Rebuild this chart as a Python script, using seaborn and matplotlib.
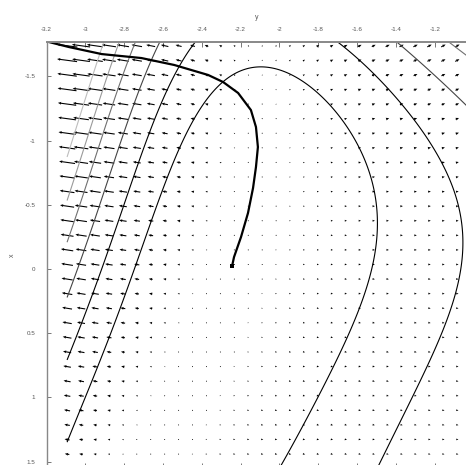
import numpy as np
import matplotlib
matplotlib.use("Agg")
import matplotlib.pyplot as plt
import seaborn as sns

# level lines as (y, x) pairs: y runs along the top, x down the side
level1_y = [-3.080, -2.941, -2.803, -2.747, -2.593, -2.444, -2.290, -2.106, -1.890, -1.721,
            -1.583, -1.531, -1.511, -1.501, -1.506, -1.531, -1.572, -1.654, -1.737, -1.803,
            -1.880, -1.982]
level1_x = [1.308, 0.771, 0.241, -0.016, -0.615, -1.160, -1.449, -1.565, -1.480, -1.262,
            -0.950, -0.748, -0.537, -0.382, -0.148, 0.062, 0.296, 0.537, 0.763, 0.997,
            1.215, 1.526]
level2_y = [-2.448, -2.649, -2.977, -3.080, -1.685, -1.516, -1.378, -1.239, -1.157, -1.085,
            -1.054, -1.070, -1.106, -1.173, -1.311, -1.378, -1.496]
level2_x = [-1.768, -1.160, 0.241, 0.646, -1.745, -1.526, -1.293, -1.005, -0.794, -0.537,
            -0.226, 0.031, 0.241, 0.530, 0.997, 1.215, 1.526]
level3_y = [-2.623, -2.777, -3.080, -1.388, -1.224, -1.044]
level3_x = [-1.768, -1.160, 0.148, -1.745, -1.526, -1.300]
level4_y = [-2.736, -2.880, -3.080, -1.095]
level4_x = [-1.768, -1.160, -0.265, -1.745]
level5_y = [-2.957, -3.080]
level5_x = [-1.160, -0.615]
level6_y = [-3.029, -3.080]
level6_x = [-1.160, -0.966]

# descent path, top left corner down to the end dot
path_y = [-3.188, -3.085, -2.916, -2.711, -2.542, -2.367, -2.290, -2.213, -2.147, -2.121,
          -2.111, -2.121, -2.136, -2.162, -2.198, -2.234, -2.244]
path_x = [-1.768, -1.729, -1.674, -1.643, -1.589, -1.511, -1.456, -1.371, -1.238, -1.106,
          -0.950, -0.794, -0.631, -0.436, -0.249, -0.093, -0.023]

# a sample of the arrows: length in pixels and screen angle in degrees
arrow_cols_y = [-3.094, -2.879, -2.663, -2.448, -2.232, -2.017, -1.802, -1.586, -1.371, -1.155]
arrow_rows_x = [-1.739, -1.398, -1.057, -0.603, -0.035, 0.533, 0.987, 1.442]
arrow_len = [[26, 19, 12, 7, 3, 3, 4, 5, 6, 7],
             [20, 15, 10, 6, 2.5, 1.5, 3, 4, 5, 6],
             [16, 13, 9, 5, 2, 1, 2, 3.5, 4.5, 5.5],
             [14, 12, 9, 5, 1.5, 0.7, 1.5, 3, 4, 5],
             [13, 12, 10, 5, 0.5, 1, 2, 3, 4, 5],
             [12, 10, 7, 3, 1, 1, 2, 3, 4, 4.5],
             [11, 7, 4, 2, 0.8, 1.2, 2, 3, 3.5, 4],
             [10, 5, 2.5, 1, 0.8, 1.2, 2, 3, 3.5, 4]]
arrow_ang = [[168, 166, 163, 155, 120, 90, 55, 45, 40, 35],
             [169, 167, 165, 160, 130, 90, 45, 35, 30, 28],
             [170, 168, 167, 165, 140, 70, 30, 22, 18, 15],
             [171, 170, 170, 170, 160, 20, 10, 8, 6, 5],
             [171, 171, 171, 175, 20, 0, -3, -4, -5, -6],
             [171, 171, 172, 178, 0, -5, -8, -8, -10, -10],
             [171, 172, 175, 180, -10, -10, -12, -13, -14, -15],
             [171, 173, 178, 180, -10, -12, -15, -17, -18, -20]]

xtick_vals = [-3.2, -3.0, -2.8, -2.6, -2.4, -2.2, -2.0, -1.8, -1.6, -1.4, -1.2]
ytick_vals = [-1.5, -1.0, -0.5, 0.0, 0.5, 1.0, 1.5]
line_colors = ['black', 'black', '#444444', '#707070', '#9a9a9a', '#bdbdbd']

# one smooth surface (quartic) through lines, arrows and path, so all three agree
powers = [(i, j) for i in range(5) for j in range(5 - i) if i + j > 0]
SHIFT = 2.2
PXU, PXV = 195.0, 128.4   # pixels per data unit along y and x


def basis(a, b, wrt=None):
    a = np.asarray(a, float)
    b = np.asarray(b, float)
    cols = []
    for i, j in powers:
        if wrt == 'a':
            c = i * a ** max(i - 1, 0) * b ** j if i else np.zeros_like(a)
        elif wrt == 'b':
            c = j * a ** i * b ** max(j - 1, 0) if j else np.zeros_like(a)
        else:
            c = a ** i * b ** j
        cols.append(c)
    return np.stack(cols, axis=-1)


nb = len(powers)
sets = [(level1_y, level1_x), (level2_y, level2_x), (level3_y, level3_x),
        (level4_y, level4_x), (level5_y, level5_x), (level6_y, level6_x)]
la, lb, lk = [], [], []
for k, (ys, xs) in enumerate(sets):
    la += list(np.array(ys) + SHIFT)
    lb += list(xs)
    lk += [k] * len(ys)
la, lb, lk = np.array(la), np.array(lb), np.array(lk)
lvl_E = np.zeros((len(la), 6))
lvl_E[np.arange(len(la)), lk] = -1.0
lvl_rows = np.hstack([basis(la, lb), lvl_E])

AY, AX = np.meshgrid(np.array(arrow_cols_y) + SHIFT, np.array(arrow_rows_x))
AY, AX = AY.ravel(), AX.ravel()
alen = np.array(arrow_len, float).ravel()
aang = np.deg2rad(np.array(arrow_ang, float).ravel())
arr_rows = np.vstack([np.hstack([basis(AY, AX, 'a') * PXU, np.zeros((len(AY), 6))]),
                      np.hstack([basis(AY, AX, 'b') * PXV, np.zeros((len(AY), 6))])])
arr_rhs = np.concatenate([alen * np.cos(aang), -alen * np.sin(aang)])

pa = np.array(path_y) + SHIFT
pb = np.array(path_x)
ta, tb = np.diff(pa), np.diff(pb)
tn = np.hypot(ta, tb)
ma, mb = (pa[1:] + pa[:-1]) / 2, (pb[1:] + pb[:-1]) / 2
path_rows = (ta / tn)[:, None] * basis(ma, mb, 'b') - (tb / tn)[:, None] * basis(ma, mb, 'a')
path_rows = np.hstack([path_rows, np.zeros((len(ma), 6))])

W_ARR, W_PATH = 0.35, 15.0
sol = np.linalg.lstsq(W_ARR * arr_rows, W_ARR * arr_rhs, rcond=None)[0]
for _ in range(8):
    coef = sol[:nb]
    gpx = np.hypot(basis(la, lb, 'a') @ coef / PXU, basis(la, lb, 'b') @ coef / PXV)
    w_lvl = 1.0 / np.maximum(gpx, 1e-5)
    gp = np.hypot(basis(ma, mb, 'a') @ coef, basis(ma, mb, 'b') @ coef)
    w_path = W_PATH / np.maximum(gp, 1e-3)
    A = np.vstack([lvl_rows * w_lvl[:, None], W_ARR * arr_rows, path_rows * w_path[:, None]])
    r = np.concatenate([np.zeros(len(la)), W_ARR * arr_rhs, np.zeros(len(ma))])
    sol = np.linalg.lstsq(A, r, rcond=None)[0]
coef = sol[:nb]
levels = sol[nb:]
order = np.argsort(levels)
levels = levels[order]
colors = [line_colors[i] for i in order]

# contour grid starts at the first arrow column, as in the picture
cy = np.linspace(-3.094, -1.0, 400)
cx = np.linspace(-1.95, 1.65, 400)
CY, CX = np.meshgrid(cy, cx)
F = basis(CY + SHIFT, CX) @ coef

qy = np.arange(-3.094, -1.0, 0.0718)
qx = np.arange(-1.739, 1.5, 0.1136)
QY, QX = np.meshgrid(qy, qx)
GU = basis(QY + SHIFT, QX, 'a') @ coef
GV = basis(QY + SHIFT, QX, 'b') @ coef

sns.set_theme(style='white')
plt.rcParams['font.family'] = ['Liberation Sans', 'DejaVu Sans']
plt.rcParams['axes.unicode_minus'] = False

fig = plt.figure(figsize=(4.66, 4.65), dpi=100)
ax = fig.add_axes([46.5 / 466, -3 / 465, 1 - 46.5 / 466, 426 / 465])

ax.contour(CY, CX, F, levels=levels, colors=colors, linewidths=0.8)
ax.quiver(QY, QX, GU, GV, angles='xy', scale_units='xy', scale=1, pivot='middle',
          color='black', width=0.0026, headwidth=2.6, headlength=3, headaxislength=2.7)

sns.lineplot(x=path_y, y=path_x, sort=False, estimator=None, color='black', linewidth=1.6, ax=ax)
sns.scatterplot(x=path_y[-1:], y=path_x[-1:], s=12, marker='s', color='black', linewidth=0,
                ax=ax, zorder=5)

ax.set_xlim(-3.19, -1.039)
ax.set_ylim(1.55, -1.768)

ax.xaxis.tick_top()
ax.xaxis.set_label_position('top')
ax.set_xticks(xtick_vals)
ax.set_xticklabels([f'{v:g}' for v in xtick_vals])
ax.set_yticks(ytick_vals)
ax.set_yticklabels([f'{v:g}' for v in ytick_vals])
ax.tick_params(axis='x', which='both', top=True, bottom=True, labelbottom=False, direction='in',
               length=3.6, width=0.7, color='#777777', labelsize=4.5, labelcolor='#555555', pad=7)
ax.tick_params(axis='y', which='both', left=True, direction='in', length=3, width=0.7,
               color='#777777', labelsize=4.5, labelcolor='#555555', pad=8)
ax.set_xlabel('y', fontsize=5, color='#555555', labelpad=6)
ax.set_ylabel('x', fontsize=5, color='#555555', labelpad=6)

for side in ['right', 'bottom']:
    ax.spines[side].set_visible(False)
ax.spines['top'].set_color('#888888')
ax.spines['top'].set_linewidth(1.4)
ax.spines['left'].set_color('#888888')
ax.spines['left'].set_linewidth(1.0)

plt.savefig('out.png', dpi=100)
